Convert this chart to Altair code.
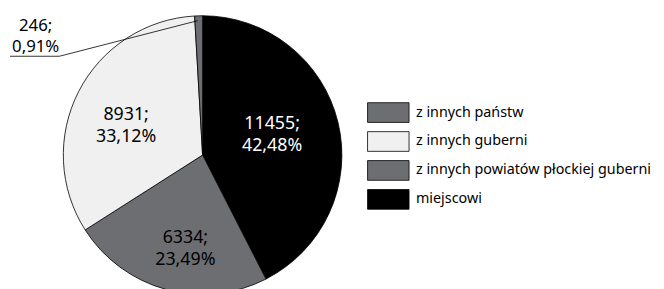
import math
import altair as alt
import pandas as pd

categories = ["miejscowi", "z innych powiatów płockiej guberni", "z innych guberni", "z innych państw"]
values = [11455, 6334, 8931, 246]
percents = ["42,48%", "23,49%", "33,12%", "0,91%"]
colors = ["#000000", "#6d6e71", "#f0f0f0", "#6d6e71"]
text_colors = ["#ffffff", "#000000", "#000000", "#000000"]
legend_order = ["z innych państw", "z innych guberni", "z innych powiatów płockiej guberni", "miejscowi"]

df = pd.DataFrame({
    "cat": categories,
    "val": values,
    "pct": percents,
    "ord": list(range(len(categories))),
    "tcol": text_colors,
})
df["label"] = df["val"].astype(str) + ";\n" + df["pct"]

FONT = "Noto Sans"
CX, CY, R = 197, 147, 141
LH = 22
total = sum(values)
rot = -0.0785

color_scale = alt.Scale(domain=legend_order,
                        range=[colors[categories.index(c)] for c in legend_order])

pie = alt.Chart(df).mark_arc(radius=R, stroke="#000000", strokeWidth=0.8).encode(
    theta=alt.Theta("val:Q", stack=True),
    order=alt.Order("ord:Q"),
    x=alt.value(CX), y=alt.value(CY),
    color=alt.Color("cat:N", scale=color_scale, sort=legend_order,
                    legend=alt.Legend(title=None, orient="none", legendX=374, legendY=93,
                                      symbolType="M-2,-0.95H2V0.95H-2Z", symbolSize=441,
                                      symbolStrokeColor="#000000", symbolStrokeWidth=0.8,
                                      labelFont=FONT, labelFontSize=14.5, labelColor="#000000",
                                      labelLimit=0, rowPadding=5.3, labelOffset=17)),
)

big = [v for v in values if v > 1000]
labels = alt.Chart(df).mark_text(fontSize=18, font=FONT, lineBreak="\n", dy=-8,
                                 baseline="middle", align="center", lineHeight=LH).encode(
    theta=alt.Theta("val:Q", stack=True,
                    scale=alt.Scale(domain=[0, total], range=[rot, 2 * math.pi + rot])),
    order=alt.Order("ord:Q"),
    x=alt.value(CX), y=alt.value(CY),
    radius=alt.Radius("val:Q", scale=alt.Scale(domain=[min(big), max(big)], range=[94, 74])),
    text="label:N",
    color=alt.Color("tcol:N", scale=None),
).transform_filter("datum.val > 1000")

small = df[df["val"] < 1000]
small_label = alt.Chart(small).mark_text(fontSize=17, font=FONT, lineBreak="\n",
                                         baseline="alphabetic", align="center", lineHeight=22).encode(
    x=alt.value(28), y=alt.value(21), text="label:N"
)
lead1 = alt.Chart(small).mark_rule(color="#000000", strokeWidth=0.8).encode(
    x=alt.value(2), x2=alt.value(52), y=alt.value(47), y2=alt.value(47))
lead2 = alt.Chart(small).mark_rule(color="#000000", strokeWidth=0.8).encode(
    x=alt.value(52), x2=alt.value(192), y=alt.value(47), y2=alt.value(11))

chart = alt.layer(pie, labels, small_label, lead1, lead2).resolve_scale(
    theta="independent", radius="independent"
).properties(
    width=656, height=300, padding=0,
    autosize=alt.AutoSizeParams(type="none"),
).configure_view(stroke=None)

chart.save("out.html", embed_options={"renderer": "svg", "actions": False})
